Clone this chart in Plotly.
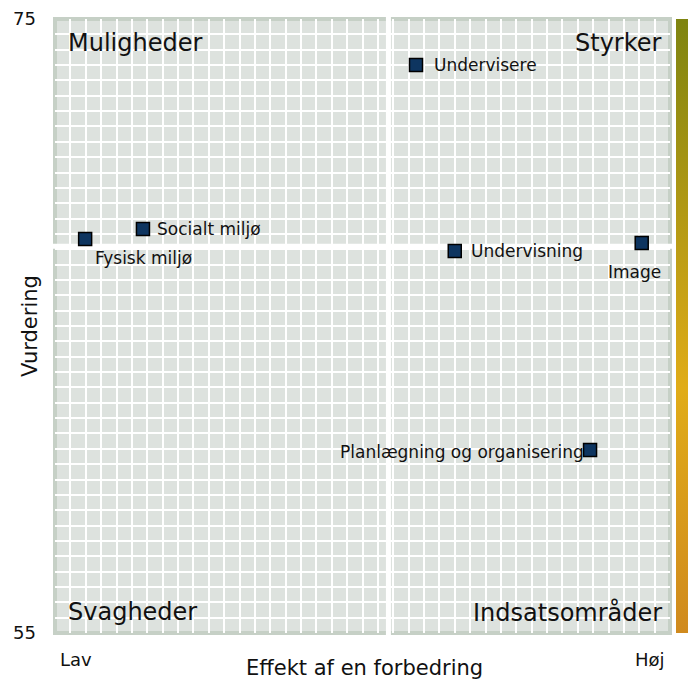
import plotly.graph_objects as go

# ---- data ----
labels = ["Undervisere", "Socialt miljø", "Fysisk miljø", "Undervisning", "Image",
          "Planlægning og organisering"]
effekt = [58.7, 14.3, 4.9, 65.0, 95.4, 87.0]
vurdering = [73.5, 68.16, 67.83, 67.44, 67.70, 60.96]
quadrants = ["Muligheder", "Styrker", "Svagheder", "Indsatsområder"]
y_ticks = [55, 75]
x_ticks_text = ["Lav", "Høj"]

# label offsets (style)
label_style = {
    "Undervisere": dict(xanchor="left", xshift=16, yshift=0),
    "Socialt miljø": dict(xanchor="left", xshift=12, yshift=0),
    "Fysisk miljø": dict(xanchor="left", xshift=8, yshift=-19),
    "Undervisning": dict(xanchor="left", xshift=14, yshift=0),
    "Image": dict(xanchor="center", xshift=-7, yshift=-29),
    "Planlægning og organisering": dict(xanchor="right", xshift=-4, yshift=-2),
}

FONT = "DejaVu Sans"
W, H = 688, 681
# plot area in page pixels: x 55..670, y 19..633
ML, MT = 55, 19
MR, MB = W - 670, H - 633
PW, PH = W - ML - MR, H - MT - MB

xm = sum(effekt) / len(effekt)
ym = sum(vurdering) / len(vurdering)

fig = go.Figure()

# dummy trace for the colour bar on the right
fig.add_trace(go.Scatter(
    x=[None, None], y=[None, None], mode="markers", showlegend=False, hoverinfo="skip",
    marker=dict(color=[0, 1], cmin=0, cmax=1, showscale=True,
                colorscale=[[0, "#d08a1e"], [0.4, "#e0ac18"], [1, "#7e8410"]],
                colorbar=dict(thickness=12, thicknessmode="pixels", len=1, lenmode="fraction",
                              y=0, yanchor="bottom", x=1, xanchor="left", xpad=6, ypad=0,
                              outlinewidth=0, showticklabels=False, ticks="")),
))

fig.add_trace(go.Scatter(
    x=effekt, y=vurdering, mode="markers", showlegend=False,
    marker=dict(symbol="square", size=13, color="#0e3560",
                line=dict(color="black", width=1.5)),
))

shapes = [
    dict(type="rect", xref="paper", yref="paper", x0=0, x1=1, y0=0, y1=1,
         line=dict(color="#c6d0c6", width=4), layer="between"),
    dict(type="line", xref="x", yref="paper", x0=xm, x1=xm, y0=-0.01, y1=1.01,
         line=dict(color="white", width=5), layer="between"),
    dict(type="line", xref="paper", yref="y", x0=-0.01, x1=1.01, y0=ym, y1=ym,
         line=dict(color="white", width=5), layer="between"),
]

annotations = []
for lab, xv, yv in zip(labels, effekt, vurdering):
    st = label_style[lab]
    annotations.append(dict(x=xv, y=yv, xref="x", yref="y", text=lab, showarrow=False,
                            xanchor=st["xanchor"], yanchor="middle",
                            xshift=st["xshift"], yshift=st["yshift"],
                            font=dict(family=FONT, size=17, color="#111")))


def py(px):
    # page pixel y -> paper
    return (633 - px) / PH


def pxx(px):
    # page pixel x -> paper
    return (px - 55) / PW


qpos = [(pxx(66), py(43), "left"), (pxx(664), py(43), "right"),
        (pxx(66), py(612), "left"), (pxx(664), py(612), "right")]
for q, (xx, yy, anc) in zip(quadrants, qpos):
    annotations.append(dict(x=xx, y=yy, xref="paper", yref="paper", text=q, showarrow=False,
                            xanchor=anc, yanchor="middle",
                            font=dict(family=FONT, size=24, color="#111")))

for t, xx in zip(x_ticks_text, [pxx(76), pxx(650)]):
    annotations.append(dict(x=xx, y=py(659), xref="paper", yref="paper", text=t,
                            showarrow=False, xanchor="center", yanchor="middle",
                            font=dict(family=FONT, size=18, color="#111")))

annotations.append(dict(x=pxx(364), y=py(668), xref="paper", yref="paper",
                        text="Effekt af en forbedring", showarrow=False,
                        xanchor="center", yanchor="middle",
                        font=dict(family=FONT, size=21, color="#111")))
annotations.append(dict(x=pxx(30), y=py(326), xref="paper", yref="paper",
                        text="Vurdering", showarrow=False, textangle=-90,
                        xanchor="center", yanchor="middle",
                        font=dict(family=FONT, size=21, color="#111")))

fig.update_layout(
    width=W, height=H, autosize=False,
    margin=dict(l=ML, r=MR, t=MT, b=MB, pad=0, autoexpand=False),
    paper_bgcolor="white", plot_bgcolor="#dde2de",
    font=dict(family=FONT, color="#111"),
    shapes=shapes, annotations=annotations,
    xaxis=dict(range=[0, 100], dtick=2.5, showgrid=True, gridcolor="white", gridwidth=2,
               showticklabels=False, zeroline=False, showline=False, ticks="", fixedrange=True),
    yaxis=dict(range=[55, 75], tickvals=y_ticks, ticktext=[str(v) for v in y_ticks],
               showgrid=False, zeroline=False, showline=False, ticks="",
               ticklabelstandoff=18, tickfont=dict(family=FONT, size=18, color="#111"),
               minor=dict(dtick=0.5, showgrid=True, gridcolor="white", gridwidth=2, ticks=""),
               fixedrange=True),
)

fig.write_html("out.html",
               config={"displayModeBar": False},
               post_script="document.body.style.margin='0';"
                           "document.body.style.overflow='hidden';")
